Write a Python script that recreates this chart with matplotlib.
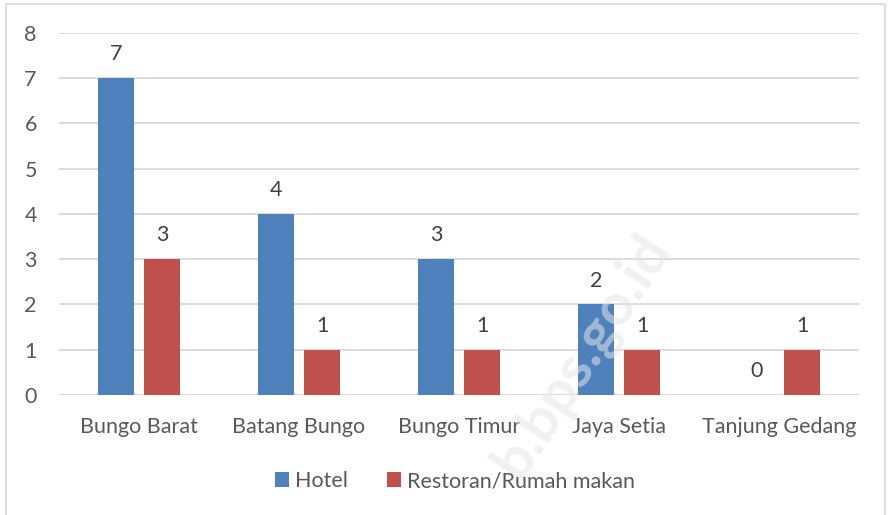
import numpy as np
import matplotlib.pyplot as plt
from matplotlib.patches import Rectangle

# data
kecamatan = ["Bungo Barat", "Batang Bungo", "Bungo Timur", "Jaya Setia", "Tanjung Gedang"]
hotel = [7, 4, 3, 2, 0]
restoran = [3, 1, 1, 1, 1]
series_names = ["Hotel", "Restoran/Rumah makan"]
y_ticks = [0, 1, 2, 3, 4, 5, 6, 7, 8]

plt.rcParams['font.family'] = ['Lato', 'DejaVu Sans']
FS = 15.5

fig = plt.figure(figsize=(8.89, 5.15), dpi=100)
ax = fig.add_axes([0.0664, 0.233, 0.90, 0.703])

x = np.arange(len(kecamatan))
w = 0.225
off = 0.144
b1 = ax.bar(x - off, hotel, w, color="#4f81bd", label=series_names[0], zorder=3)
b2 = ax.bar(x + off, restoran, w, color="#c0504d", label=series_names[1], zorder=3)

for bars, vals in ((b1, hotel), (b2, restoran)):
    for r, v in zip(bars, vals):
        ax.annotate(str(v), (r.get_x() + r.get_width() / 2, v),
                    xytext=(0, 10), textcoords="offset points",
                    ha="center", va="bottom", fontsize=FS, color="#404040")

ax.set_xlim(-0.5, len(kecamatan) - 0.5)
ax.set_ylim(0, 8)
ax.set_yticks(y_ticks)
ax.set_xticks(x)
ax.set_xticklabels(kecamatan)
ax.yaxis.grid(True, color="#d9d9d9", linewidth=1.3, zorder=0)
ax.tick_params(axis="both", length=0, labelsize=FS, labelcolor="#595959")
ax.tick_params(axis="y", pad=16)
ax.tick_params(axis="x", pad=16)
for s in ax.spines.values():
    s.set_visible(False)
ax.axhline(0, color="#d9d9d9", linewidth=1.3, zorder=2)

leg = fig.legend(loc="center", bbox_to_anchor=(0.512, 0.066), ncol=2, frameon=False,
                 fontsize=FS, handlelength=0.65, handleheight=0.65, handletextpad=0.3,
                 columnspacing=1.8)
for t in leg.get_texts():
    t.set_color("#595959")

# watermark
fig.text(0.655, 0.31, "b.bps.go.id", rotation=57, fontsize=42, fontweight="bold",
         color="#e6e6e6", alpha=0.55, ha="center", va="center", zorder=5)

# outer border
fig.patches.append(Rectangle((0.007, -0.02), 0.989, 1.012, transform=fig.transFigure,
                             fill=False, edgecolor="#d9d9d9", linewidth=1.2))

fig.savefig("out.png", dpi=100)
